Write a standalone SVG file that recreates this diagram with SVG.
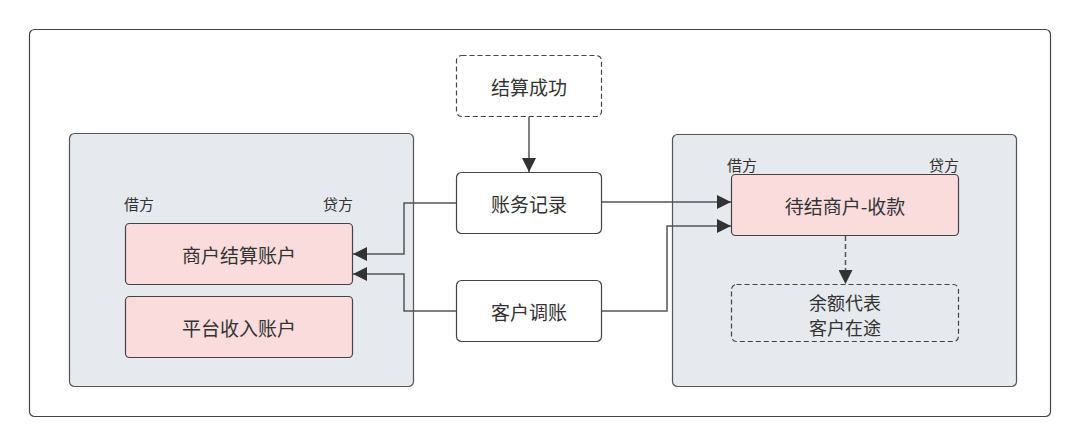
<svg xmlns="http://www.w3.org/2000/svg" width="1080" height="446" viewBox="0 0 1080 446">
<defs>
<style>
text{font-family:"Noto Sans CJK SC","Liberation Sans",sans-serif;fill:#333;}
.lbl{font-size:19px;text-anchor:middle;dominant-baseline:central;}
.ml{font-size:18px;text-anchor:middle;dominant-baseline:central;}
.side{font-size:15px;}
.grp{fill:#e6e9ed;stroke:#555;stroke-width:1.2;}
.acct{fill:#fadcdc;stroke:#444;stroke-width:1.2;}
.box{fill:#fff;stroke:#444;stroke-width:1.2;}
.dash{fill:#fff;stroke:#444;stroke-width:1.2;stroke-dasharray:5 3;}
.dashg{fill:none;stroke:#444;stroke-width:1.2;stroke-dasharray:5 3;}
.conn{fill:none;stroke:#555;stroke-width:1.5;}
</style>
<marker id="arr" viewBox="0 0 10 10" refX="10" refY="5" markerWidth="14" markerHeight="14" markerUnits="userSpaceOnUse" orient="auto">
<path d="M0,0 L10,5 L0,10 z" fill="#333"/>
</marker>
</defs>
<rect x="0" y="0" width="1080" height="446" fill="#fff"/>
<rect id="frame" x="29.5" y="29.5" width="1021" height="387" rx="5" fill="#fff" stroke="#444" stroke-width="1.2"/>

<g id="left-group">
<rect class="grp" x="69.5" y="133.5" width="344" height="253" rx="5"/>
<text class="side" x="124" y="210">借方</text>
<text class="side" x="353" y="210" text-anchor="end">贷方</text>
</g>
<g id="merchant-settle">
<rect class="acct" x="125.5" y="223.5" width="227" height="61" rx="4"/>
<text class="lbl" x="239" y="254">商户结算账户</text>
</g>
<g id="platform-income">
<rect class="acct" x="125.5" y="296.5" width="227" height="61" rx="4"/>
<text class="lbl" x="239" y="327">平台收入账户</text>
</g>

<g id="settle-success">
<rect class="dash" x="456.5" y="55.5" width="145" height="61" rx="5"/>
<text class="lbl" x="529" y="86">结算成功</text>
</g>
<g id="ledger-record">
<rect class="box" x="456.5" y="172.5" width="145" height="61" rx="5"/>
<text class="lbl" x="529" y="203">账务记录</text>
</g>
<g id="customer-adjust">
<rect class="box" x="456.5" y="280.5" width="145" height="61" rx="5"/>
<text class="lbl" x="529" y="311">客户调账</text>
</g>

<g id="right-group">
<rect class="grp" x="672.5" y="134.5" width="344" height="252" rx="5"/>
<text class="side" x="727" y="171">借方</text>
<text class="side" x="959" y="171" text-anchor="end">贷方</text>
</g>
<g id="pending-merchant">
<rect class="acct" x="731.5" y="174.5" width="227" height="61" rx="4"/>
<text class="lbl" x="845" y="205">待结商户-收款</text>
</g>
<g id="balance-note">
<rect class="dashg" x="731.5" y="284.5" width="227" height="57" rx="5"/>
<text class="ml" x="845" y="302">余额代表</text>
<text class="ml" x="845" y="327">客户在途</text>
</g>

<g id="connectors">
<path class="conn" d="M529,117 L529,172" marker-end="url(#arr)"/>
<path class="conn" d="M456,203 L404,203 L404,254 L353,254" marker-end="url(#arr)"/>
<path class="conn" d="M456,311 L404,311 L404,274 L353,274" marker-end="url(#arr)"/>
<path class="conn" d="M602,202 L731,202" marker-end="url(#arr)"/>
<path class="conn" d="M602,311 L667,311 L667,226 L731,226" marker-end="url(#arr)"/>
<path class="conn" d="M845.5,236 L845.5,284" stroke-dasharray="5 3" marker-end="url(#arr)"/>
</g>
</svg>
